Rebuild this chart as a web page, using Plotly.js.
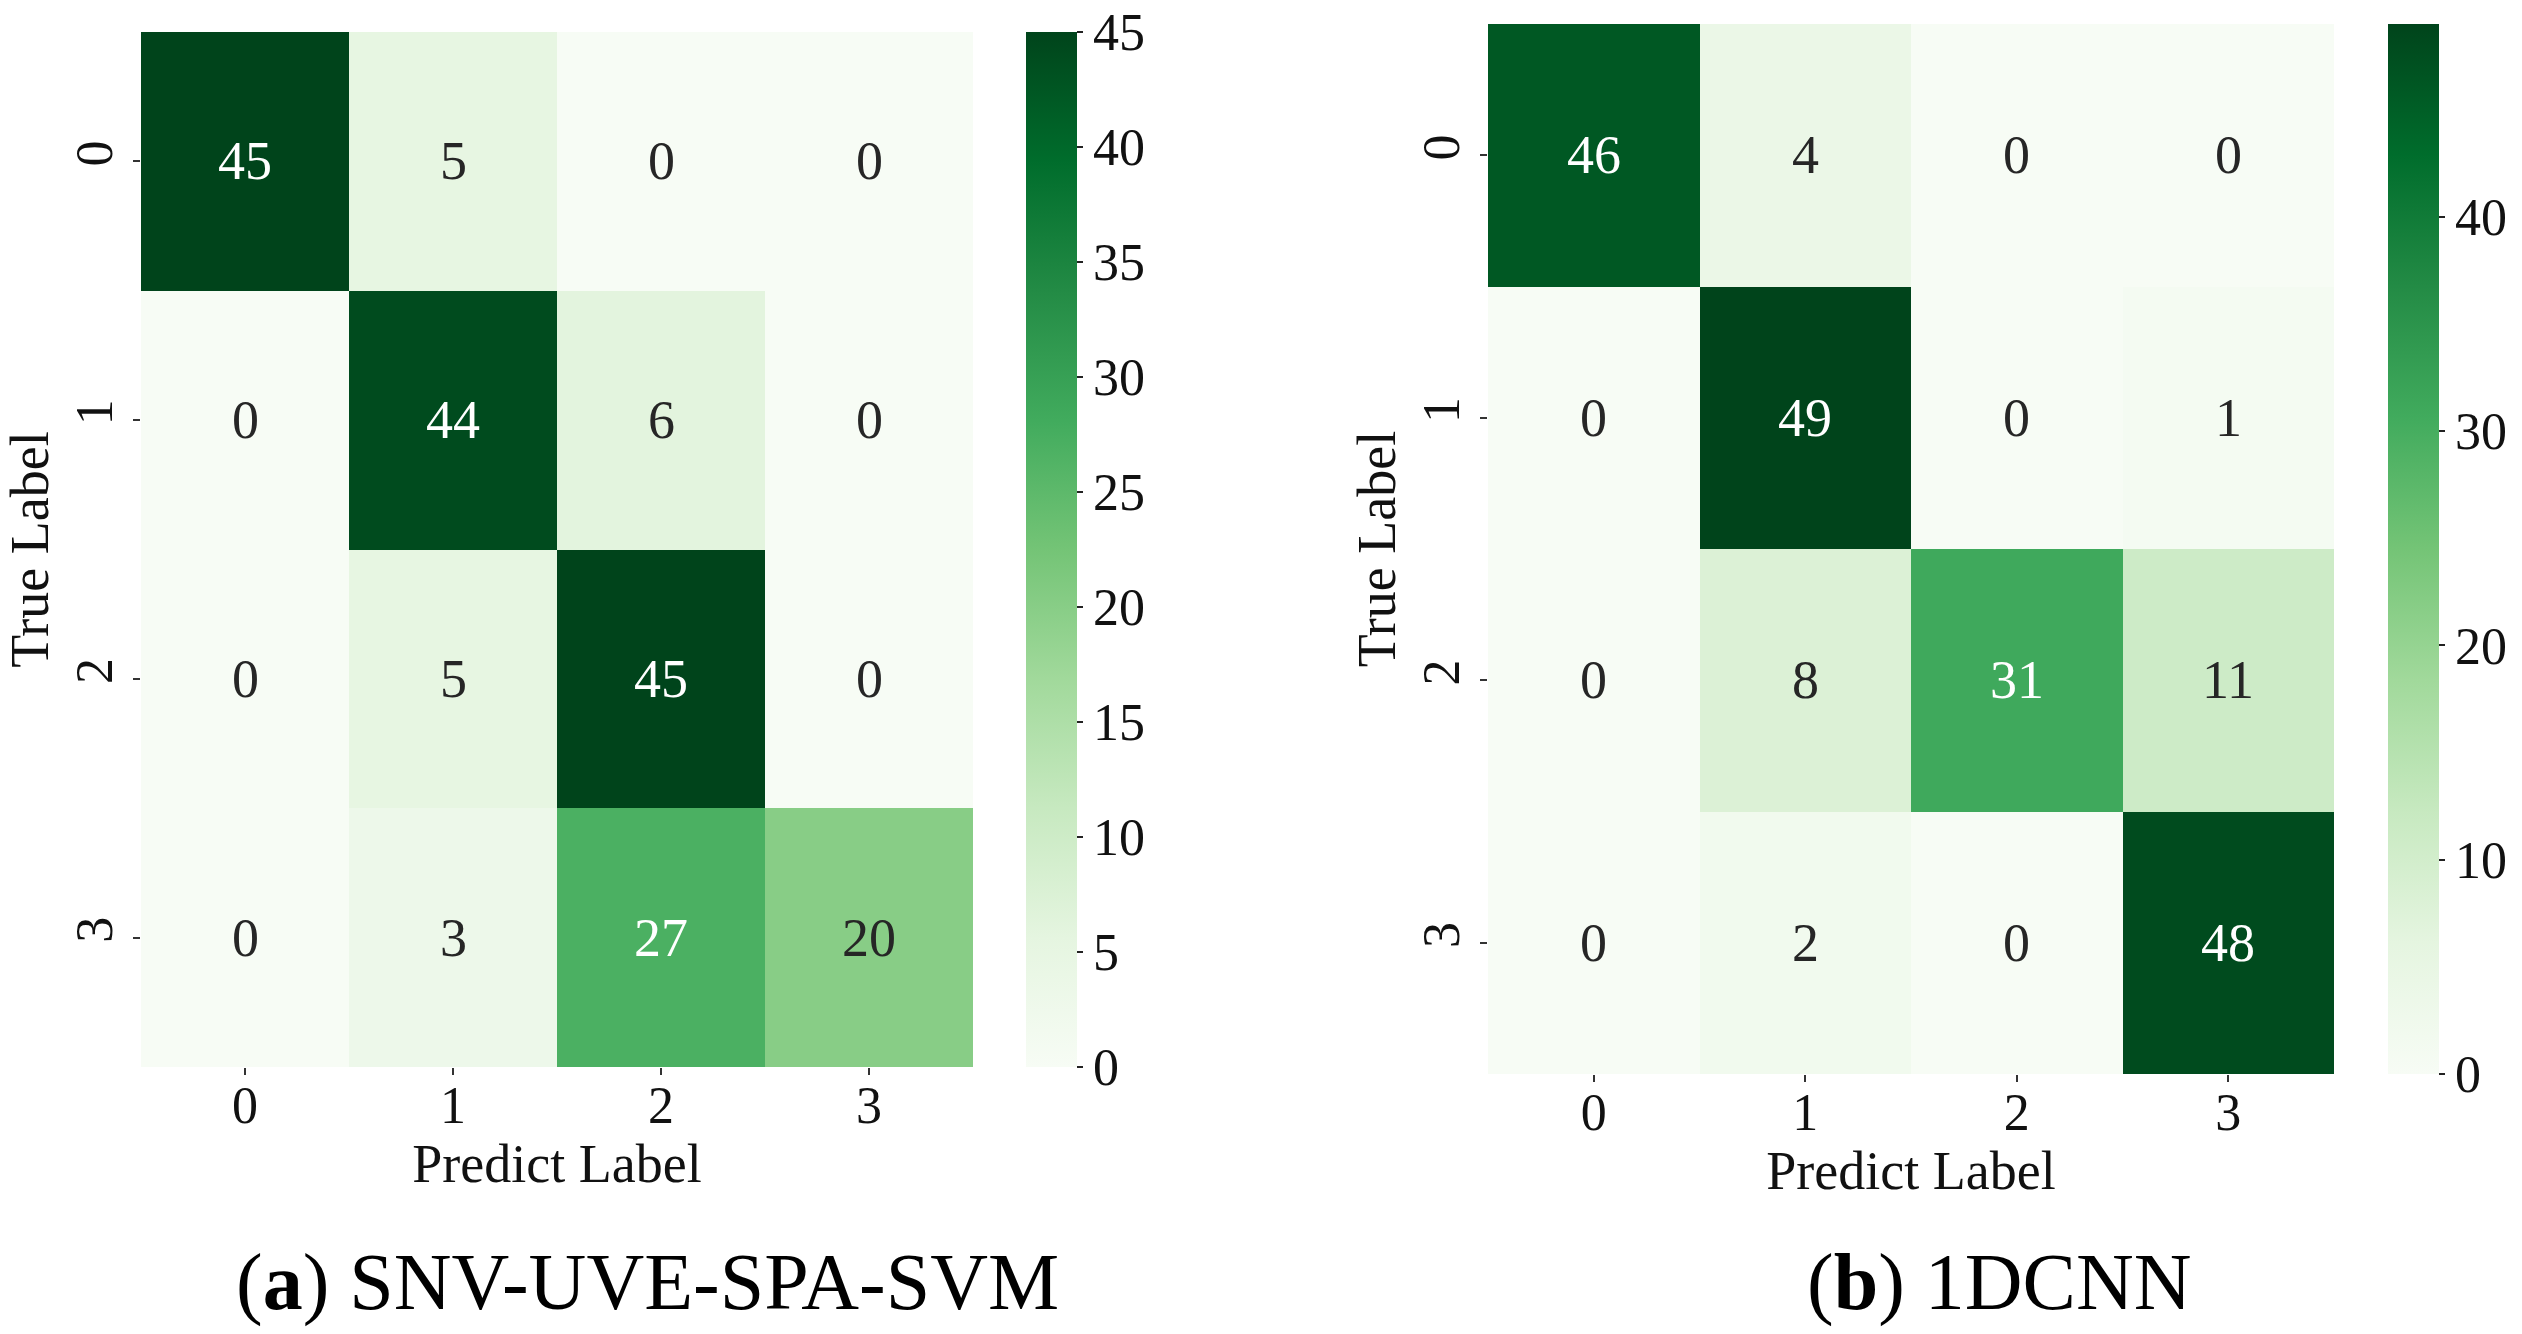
<!DOCTYPE html>
<html>
<head>
<meta charset="utf-8">
<script src="https://cdn.plot.ly/plotly-3.0.1.min.js"></script>
<style>html,body{margin:0;padding:0;background:#fff;}#chart{width:2522px;height:1334px;}</style>
</head>
<body>
<div id="chart"></div>
<script>
// ---- data ----
const classLabels = ['0', '1', '2', '3'];
const svmMatrix = [
  [45, 5, 0, 0],
  [0, 44, 6, 0],
  [0, 5, 45, 0],
  [0, 3, 27, 20]
];
const cnnMatrix = [
  [46, 4, 0, 0],
  [0, 49, 0, 1],
  [0, 8, 31, 11],
  [0, 2, 0, 48]
];
const svmMax = 45;
const cnnMax = 49;
const svmCbarTicks = [0, 5, 10, 15, 20, 25, 30, 35, 40, 45];
const cnnCbarTicks = [0, 10, 20, 30, 40];
const captionA = '(<b>a</b>) SNV-UVE-SPA-SVM';
const captionB = '(<b>b</b>) 1DCNN';
const xTitle = 'Predict Label';
const yTitle = 'True Label';

// ---- styling ----
const FONT = 'Liberation Serif, Times New Roman, serif';
const greens = [
  [0.0, '#f7fcf5'], [0.125, '#e5f5e0'], [0.25, '#c7e9c0'], [0.375, '#a1d99b'],
  [0.5, '#74c476'], [0.625, '#41ab5d'], [0.75, '#238b45'], [0.875, '#006d2c'], [1.0, '#00441b']
];
const W = 2522, H = 1334;
const px = v => v / W, py = v => 1 - v / H;

function heat(z, zmax, xa, ya, cbX, cbTop, cbBot, ticks) {
  return {
    type: 'heatmap', z: z, x: classLabels, y: classLabels,
    xaxis: xa, yaxis: ya, zmin: 0, zmax: zmax,
    colorscale: greens, hoverinfo: 'skip',
    colorbar: {
      x: px(cbX), xanchor: 'left', thickness: 51, thicknessmode: 'pixels',
      y: py(cbBot), yanchor: 'bottom', len: cbBot - cbTop, lenmode: 'pixels',
      outlinewidth: 0, ticks: 'outside', ticklen: 6, tickwidth: 2, tickcolor: '#222',
      tickvals: ticks, ticktext: ticks.map(String),
      tickfont: {family: FONT, size: 52, color: '#111'}, xpad: 0, ypad: 0
    }
  };
}

const data = [
  heat(svmMatrix, svmMax, 'x', 'y', 1026, 32, 1067, svmCbarTicks),
  heat(cnnMatrix, cnnMax, 'x2', 'y2', 2388, 24, 1074, cnnCbarTicks)
];

function xax(d0, d1, anchor) {
  return {
    domain: [px(d0), px(d1)], anchor: anchor, type: 'category',
    showgrid: false, zeroline: false, showline: false,
    ticks: 'outside', ticklen: 7, tickwidth: 2, tickcolor: '#333',
    tickfont: {family: FONT, size: 52, color: '#111'},
    ticklabelstandoff: -14,
    title: {text: xTitle, font: {family: FONT, size: 54, color: '#111'}, standoff: 3},
    automargin: false, fixedrange: true
  };
}
function yax(t, b, anchor) {
  return {
    domain: [py(b), py(t)], anchor: anchor, type: 'category', autorange: 'reversed',
    showgrid: false, zeroline: false, showline: false,
    ticks: 'outside', ticklen: 7, tickwidth: 2, tickcolor: '#333',
    tickangle: -90,
    tickfont: {family: FONT, size: 52, color: '#111'},
    ticklabelstandoff: 0,
    title: {text: yTitle, font: {family: FONT, size: 54, color: '#111'}, standoff: 0},
    automargin: false, fixedrange: true
  };
}

const annotations = [];
function addCellText(z, zmax, xr, yr) {
  z.forEach((row, i) => row.forEach((v, j) => {
    annotations.push({
      x: classLabels[j], y: classLabels[i], xref: xr, yref: yr,
      text: String(v), showarrow: false,
      font: {family: FONT, size: 54, color: v / zmax > 0.5 ? '#ffffff' : '#262626'}
    });
  }));
}
addCellText(svmMatrix, svmMax, 'x', 'y');
addCellText(cnnMatrix, cnnMax, 'x2', 'y2');
annotations.push({
  x: px(648), y: py(1282), xref: 'paper', yref: 'paper', showarrow: false,
  xanchor: 'center', yanchor: 'middle',
  text: captionA, font: {family: FONT, size: 80, color: '#000'}
});
annotations.push({
  x: px(1999), y: py(1282), xref: 'paper', yref: 'paper', showarrow: false,
  xanchor: 'center', yanchor: 'middle',
  text: captionB, font: {family: FONT, size: 80, color: '#000'}
});

const layout = {
  width: W, height: H,
  margin: {l: 0, r: 0, t: 0, b: 0, pad: 0},
  paper_bgcolor: '#ffffff', plot_bgcolor: '#ffffff',
  showlegend: false,
  xaxis: xax(141, 973, 'y'),
  yaxis: yax(32, 1067, 'x'),
  xaxis2: xax(1488, 2334, 'y2'),
  yaxis2: yax(24, 1074, 'x2'),
  annotations: annotations,
  font: {family: FONT}
};

Plotly.newPlot('chart', data, layout, {staticPlot: true, displayModeBar: false});
</script>
</body>
</html>
